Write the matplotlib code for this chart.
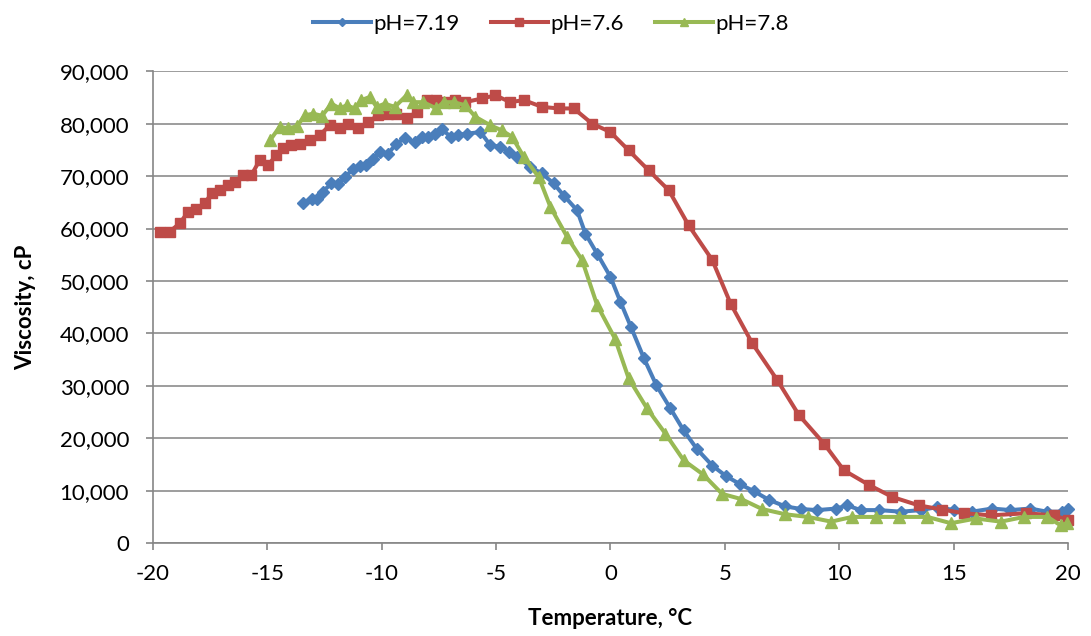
import numpy as np
import matplotlib
matplotlib.use("Agg")
import matplotlib.pyplot as plt
from matplotlib.ticker import FuncFormatter, MultipleLocator

plt.rcParams['font.family'] = ['Lato', 'DejaVu Sans']
plt.rcParams['axes.unicode_minus'] = False

# pH=7.19
t_719 = [-13.45, -13.06, -12.84, -12.58, -12.19, -11.9, -11.6, -11.24, -10.95, -10.66,
         -10.37, -10.07, -9.71, -9.35, -8.98, -8.55, -8.25, -7.97, -7.67, -7.35,
         -6.98, -6.65, -6.25, -5.68, -5.25, -4.81, -4.45, -4.08, -3.5, -2.99,
         -2.48, -2.04, -1.46, -1.09, -0.58, 0.0, 0.44, 0.9, 1.46, 2.01,
         2.62, 3.2, 3.79, 4.45, 5.05, 5.68, 6.27, 6.95, 7.65, 8.35,
         9.04, 9.87, 10.35, 10.93, 11.73, 12.7, 13.57, 14.29, 15.0, 15.8,
         16.68, 17.48, 18.35, 19.07, 19.74, 20.0]
v_719 = [64.8, 65.7, 65.7, 67.0, 68.6, 68.4, 69.8, 71.4, 71.9, 72.1,
         73.3, 74.6, 74.3, 76.2, 77.2, 76.5, 77.5, 77.5, 78.1, 79.0,
         77.4, 77.9, 78.1, 78.4, 75.9, 75.6, 74.6, 73.7, 71.7, 70.5,
         68.6, 66.3, 63.5, 59.0, 55.2, 50.8, 46.0, 41.2, 35.3, 30.1,
         25.7, 21.5, 17.9, 14.8, 12.8, 11.2, 9.9, 8.2, 7.0, 6.5,
         6.3, 6.6, 7.2, 6.3, 6.3, 6.0, 6.3, 6.9, 6.3, 6.0,
         6.6, 6.3, 6.6, 6.0, 6.0, 6.5]

# pH=7.6
t_76 = [-19.69, -19.26, -18.82, -18.45, -18.09, -17.73, -17.43, -17.07, -16.71, -16.42,
        -16.05, -15.69, -15.33, -14.96, -14.6, -14.31, -13.94, -13.58, -13.14, -12.7,
        -12.27, -11.83, -11.46, -11.03, -10.59, -10.15, -9.71, -9.35, -8.91, -8.47,
        -8.03, -7.6, -7.23, -6.79, -6.36, -5.61, -5.03, -4.37, -3.79, -2.99,
        -2.26, -1.6, -0.8, 0.0, 0.8, 1.67, 2.55, 3.42, 4.45, 5.25,
        6.2, 7.29, 8.24, 9.33, 10.2, 11.3, 12.32, 13.48, 14.5, 15.45,
        16.63, 18.16, 19.38, 20.0]
v_76 = [59.4, 59.4, 61.0, 63.2, 63.8, 64.8, 66.7, 67.3, 68.3, 68.9,
        70.2, 70.2, 73.0, 72.1, 74.0, 75.3, 75.9, 76.2, 76.8, 77.8,
        79.7, 79.1, 80.0, 79.1, 80.3, 81.6, 81.9, 81.9, 81.0, 82.2,
        84.5, 84.5, 84.1, 84.5, 84.1, 84.8, 85.4, 84.1, 84.5, 83.2,
        82.9, 82.9, 80.0, 78.4, 74.9, 71.1, 67.3, 60.6, 54.0, 45.7,
        38.1, 31.1, 24.4, 19.0, 13.9, 11.1, 8.8, 7.2, 6.4, 5.7,
        5.3, 5.7, 5.3, 4.4]

# pH=7.8
t_78 = [-14.88, -14.45, -14.08, -13.7, -13.35, -12.99, -12.6, -12.19, -11.82, -11.53,
        -11.17, -10.88, -10.51, -10.22, -9.86, -9.42, -8.91, -8.62, -8.18, -7.6,
        -7.29, -6.85, -6.34, -5.9, -5.25, -4.74, -4.3, -3.79, -3.13, -2.62,
        -1.89, -1.24, -0.58, 0.2, 0.8, 1.6, 2.4, 3.2, 4.05, 4.88,
        5.72, 6.63, 7.65, 8.63, 9.65, 10.56, 11.59, 12.61, 13.85, 14.88,
        15.97, 17.06, 18.08, 19.1, 19.67, 19.96]
v_78 = [76.8, 79.4, 79.1, 79.5, 81.6, 81.9, 81.5, 83.8, 82.9, 83.5,
        82.9, 84.5, 85.1, 83.2, 83.8, 83.2, 85.4, 84.1, 84.1, 82.9,
        84.1, 84.1, 83.5, 81.3, 79.7, 78.7, 77.5, 73.7, 69.8, 64.1,
        58.4, 54.0, 45.4, 39.0, 31.4, 25.7, 20.9, 15.8, 13.1, 9.4,
        8.4, 6.5, 5.5, 5.0, 4.1, 5.0, 5.0, 5.0, 5.0, 3.8,
        4.7, 4.1, 5.0, 5.0, 3.4, 3.8]

fig = plt.figure(figsize=(10.91, 6.36), dpi=100)
ax = fig.add_axes([0.140, 0.146, 0.839, 0.742])

ax.plot(t_719, np.array(v_719) * 1000, color='#4A7EBB', lw=2.9, marker='D', ms=6,
        label='pH=7.19', clip_on=False, zorder=3)
ax.plot(t_76, np.array(v_76) * 1000, color='#BE4B48', lw=2.9, marker='s', ms=7.5,
        label='pH=7.6', clip_on=False, zorder=3)
ax.plot(t_78, np.array(v_78) * 1000, color='#98B954', lw=2.9, marker='^', ms=8,
        label='pH=7.8', clip_on=False, zorder=4)

ax.set_xlim(-20, 20)
ax.set_ylim(0, 90000)
ax.xaxis.set_major_locator(MultipleLocator(5))
ax.yaxis.set_major_locator(MultipleLocator(10000))
ax.yaxis.set_major_formatter(FuncFormatter(lambda v, p: f'{int(v):,}'))

ax.grid(axis='y', color='#8C8C8C', lw=1.2)
ax.set_axisbelow(True)
for s in ['top', 'right']:
    ax.spines[s].set_visible(False)
for s in ['left', 'bottom']:
    ax.spines[s].set_color('#868686')
    ax.spines[s].set_linewidth(1.2)
ax.tick_params(axis='both', colors='#868686', labelcolor='black', labelsize=16,
               length=5, width=1.2, direction='out')
ax.tick_params(axis='y', pad=12)
ax.tick_params(axis='x', pad=10)

ax.set_xlabel('Temperature, °C', fontsize=16, fontweight='bold', labelpad=17)
ax.set_ylabel('Viscosity, cP', fontsize=16, fontweight='bold', labelpad=17)

fig.legend(loc='upper center', bbox_to_anchor=(0.505, 1.01), ncol=3, frameon=False,
           fontsize=16, handlelength=2.6, columnspacing=1.4, handletextpad=0.1,
           markerscale=0.7)

fig.savefig('out.png', dpi=100)
